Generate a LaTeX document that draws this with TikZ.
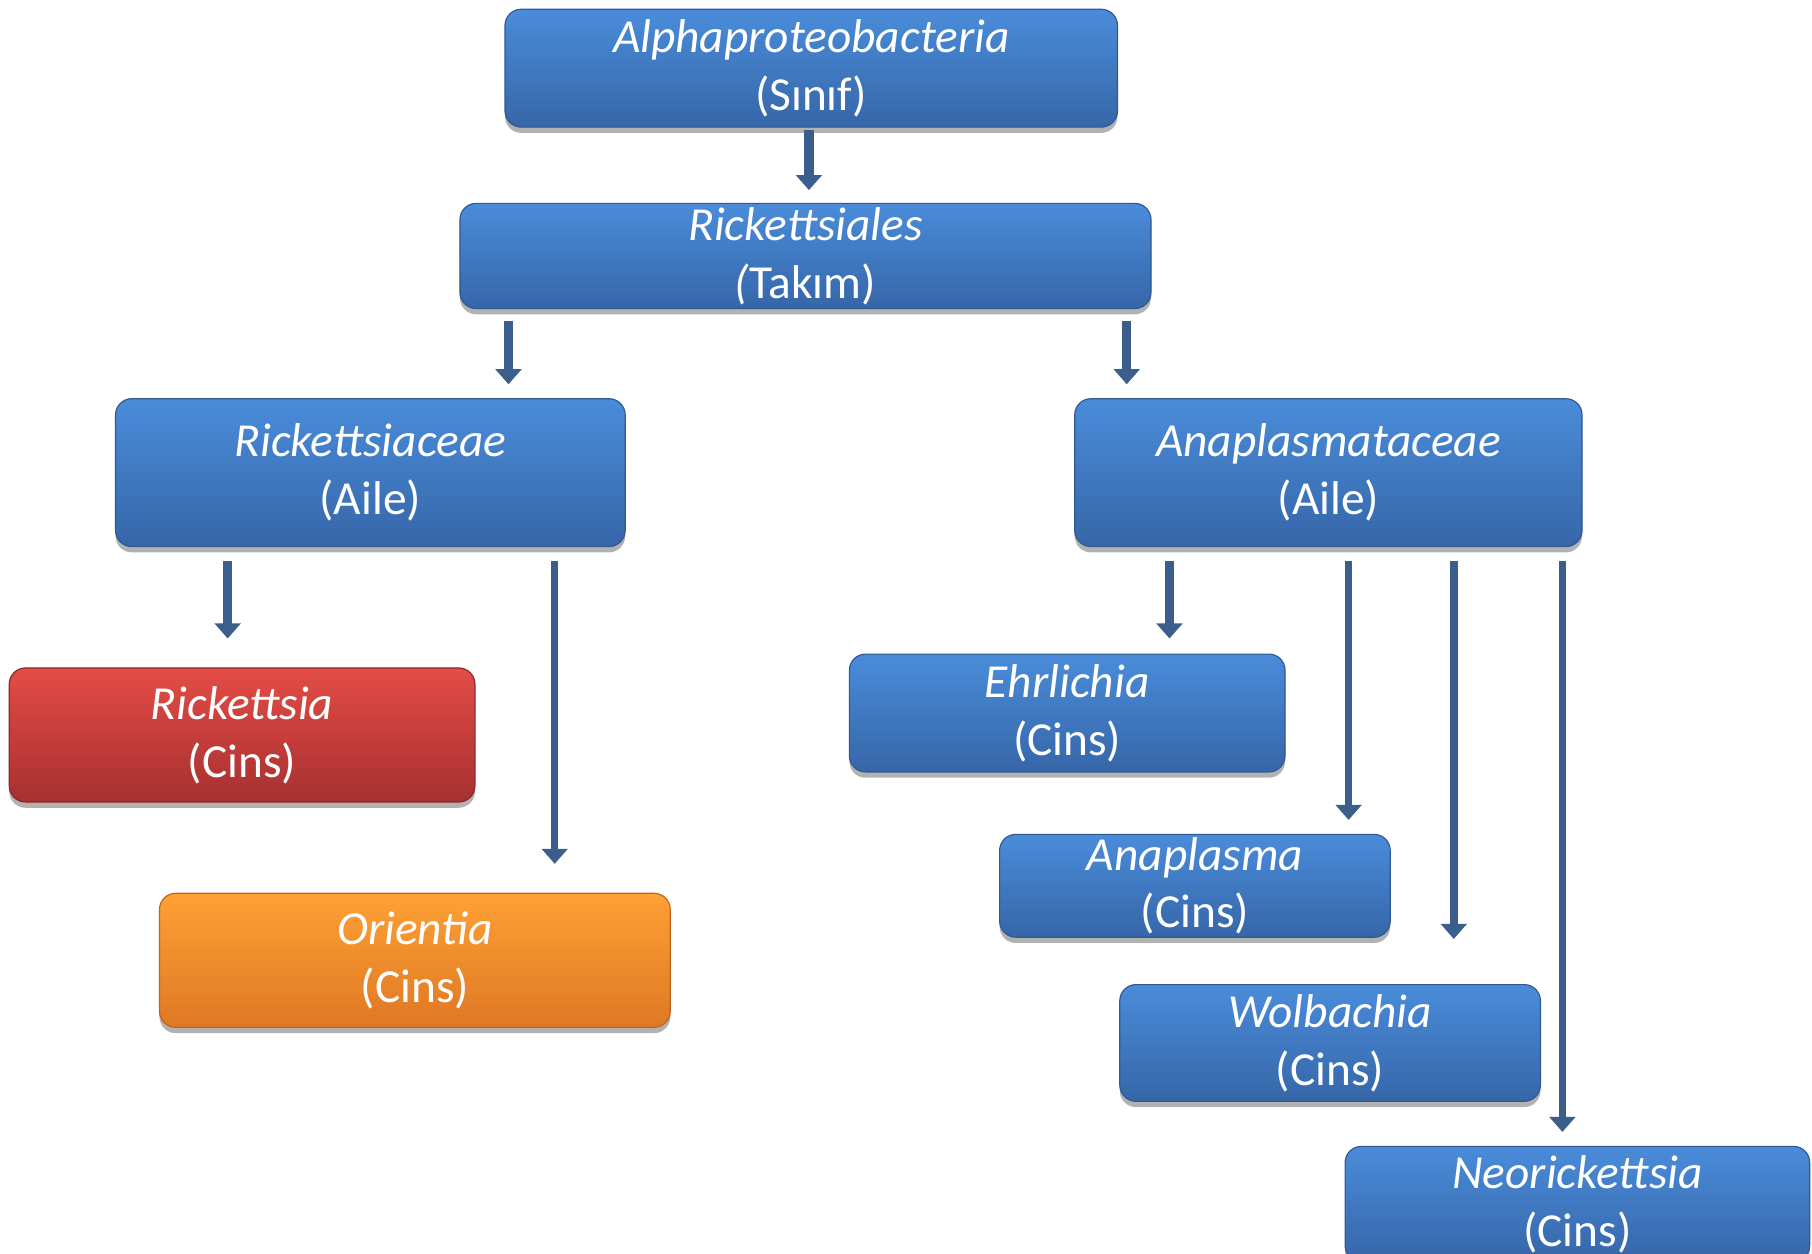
\documentclass[tikz,border=0pt]{standalone}
\usepackage{fontspec}
\setmainfont{Carlito}
\usetikzlibrary{arrows.meta,shadows,shadings}
\definecolor{bluetop}{RGB}{74,140,218}
\definecolor{bluebot}{RGB}{54,102,168}
\definecolor{blueedge}{RGB}{48,88,145}
\definecolor{redtop}{RGB}{228,76,70}
\definecolor{redbot}{RGB}{166,48,48}
\definecolor{rededge}{RGB}{140,40,40}
\definecolor{ortop}{RGB}{255,160,52}
\definecolor{orbot}{RGB}{222,120,36}
\definecolor{oredge}{RGB}{190,100,30}
\definecolor{arrcol}{RGB}{59,94,140}
\tikzset{
  box/.style={rounded corners=14pt, inner sep=0pt, align=center, text=white,
    font=\fontsize{41}{50}\selectfont, top color=bluetop, bottom color=bluebot,
    draw=blueedge, line width=1pt,
    drop shadow={shadow xshift=0pt, shadow yshift=-5pt, opacity=0.3, fill=black}},
  redbox/.style={box, top color=redtop, bottom color=redbot, draw=rededge},
  orbox/.style={box, top color=ortop, bottom color=orbot, draw=oredge},
  arr/.style={draw=arrcol, line width=8pt, -{Triangle[width=22pt,length=13pt]}, arrcol},
  arrthin/.style={arr, line width=6.5pt}
}
\begin{document}
\begin{tikzpicture}[x=1pt,y=-1pt]
\useasboundingbox (0,0) rectangle (1568,1085);
\node[box, minimum width=530pt, minimum height=102pt] (alpha) at (702,59) {\textit{Alphaproteobacteria}\\(Sınıf)};
\node[box, minimum width=598pt, minimum height=91pt] (ricks) at (697,221.5) {\textit{Rickettsiales}\\\textit{(}Takım)};
\node[box, minimum width=441pt, minimum height=128pt] (rceae) at (320.5,409) {\textit{Rickettsiaceae}\\(Aile)};
\node[box, minimum width=439pt, minimum height=128pt] (anapl) at (1149.5,409) {\textit{Anaplasmataceae}\\(Aile)};
\node[redbox, minimum width=403pt, minimum height=116pt] (rick) at (209.5,636) {\textit{Rickettsia}\\(Cins)};
\node[orbox, minimum width=442pt, minimum height=116pt] (orient) at (359,831) {\textit{Orientia}\\(Cins)};
\node[box, minimum width=377pt, minimum height=102pt] (ehr) at (923.5,617) {\textit{Ehrlichia}\\(Cins)};
\node[box, minimum width=338pt, minimum height=89pt] (anapla) at (1034,766.5) {\textit{Anaplasma}\\(Cins)};
\node[box, minimum width=364pt, minimum height=101pt] (wolb) at (1151,902.5) {\textit{Wolbachia}\\(Cins)};
\node[box, minimum width=402pt, minimum height=100pt] (neo) at (1365,1042) {\textit{Neorickettsia}\\(Cins)};

\draw[arr] ([xshift=-2pt,yshift=-2pt]alpha.south) -- ([xshift=3pt,yshift=11pt]ricks.north);
\draw[arr] ([xshift=-257pt,yshift=-10pt]ricks.south) -- ([xshift=119.5pt,yshift=12pt]rceae.north);
\draw[arr] ([xshift=278pt,yshift=-10pt]ricks.south) -- ([xshift=-174.5pt,yshift=12pt]anapl.north);
\draw[arr] ([xshift=-123.5pt,yshift=-12pt]rceae.south) -- ([xshift=-12.5pt,yshift=25pt]rick.north);
\draw[arrthin] ([xshift=159.5pt,yshift=-12pt]rceae.south) -- ([xshift=121pt,yshift=25pt]orient.north);
\draw[arr] ([xshift=-137.5pt,yshift=-12pt]anapl.south) -- ([xshift=88.5pt,yshift=13pt]ehr.north);
\draw[arrthin] ([xshift=17.5pt,yshift=-12pt]anapl.south) -- ([xshift=133pt,yshift=12pt]anapla.north);
\draw[arrthin] ([xshift=108.5pt,yshift=-12pt]anapl.south) -- ([xshift=107pt,yshift=39pt]wolb.north);
\draw[arrthin] ([xshift=202.5pt,yshift=-12pt]anapl.south) -- ([xshift=-13pt,yshift=12pt]neo.north);
\end{tikzpicture}
\end{document}
